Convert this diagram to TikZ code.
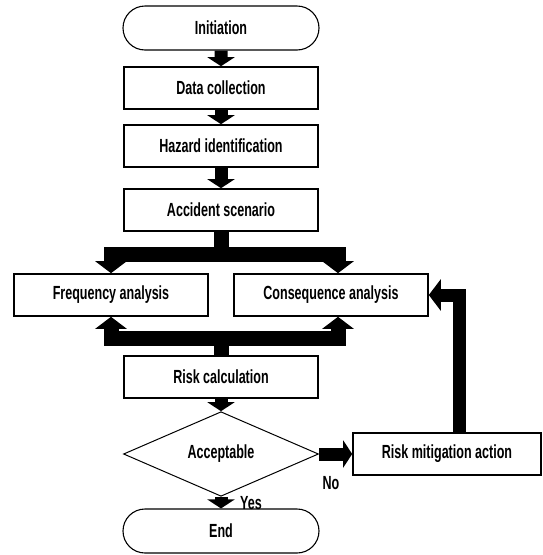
\documentclass[tikz,border=0pt]{standalone}
\usepackage{fontspec}
\setmainfont{Liberation Sans}[FakeStretch=0.66]
\usetikzlibrary{arrows.meta,shapes.geometric,shapes.misc}

\tikzset{
  box/.style={draw, line width=1.6pt, minimum width=194pt, minimum height=42pt, inner sep=0pt},
  terminal/.style={draw, rounded rectangle, line width=1.1pt, minimum width=196pt, minimum height=44pt, inner sep=0pt},
  decision/.style={draw, diamond, line width=1pt, minimum width=195pt, minimum height=78pt, inner sep=0pt},
  smalltip/.tip={Triangle[length=9pt,width=27pt]},
  bigtip/.tip={Triangle[length=12pt,width=31pt]},
  flow/.style={line width=13pt, -smalltip},
  bigline/.style={line width=15pt},
  bigflow/.style={line width=15pt, line join=miter, -bigtip}
}

\begin{document}
\begin{tikzpicture}[x=1pt,y=-1pt, every node/.style={font=\bfseries\fontsize{19}{21}\selectfont}]
\useasboundingbox (0,0) rectangle (542,555);

\node[terminal] (init) at (221,28) {Initiation};
\node[box] (data) at (221,88) {Data collection};
\node[box] (haz) at (221,146) {Hazard identification};
\node[box] (acc) at (221,210) {Accident scenario};
\node[box] (freq) at (111,295) {Frequency analysis};
\node[box] (cons) at (331,295) {Consequence analysis};
\node[box] (risk) at (221,377) {Risk calculation};
\node[decision] (ok) at (221,454) {Acceptable};
\node[box, minimum width=188pt] (mitig) at (447,454) {Risk mitigation action};
\node[terminal] (end) at (221,531) {End};

\coordinate (splitL) at (111,254);
\coordinate (splitR) at (338,254);
\coordinate (joinL) at (111,338);
\coordinate (joinR) at (338,338);
\coordinate (back) at (459,295);

\draw[flow] (init) -- (data);
\draw[flow] (data) -- (haz);
\draw[flow] (haz) -- (acc);

\draw[bigline] (acc.south) -- (acc.south |- splitL);
\draw[bigflow, bigtip-bigtip] (freq.north) -- (freq.north |- splitL) -- (splitR) -- (splitR |- cons.north);

\draw[bigflow, bigtip-bigtip] (freq.south) -- (freq.south |- joinL) -- (joinR) -- (joinR |- cons.south);
\draw[bigline] (risk.north) -- (risk.north |- joinL);

\draw[flow] (risk) -- (ok);
\draw[flow] (ok) -- (end);
\draw[flow] (ok) -- (mitig);
\draw[bigflow, line width=13pt] (mitig.north -| back) -- (back) -- (cons.east);

\node (no) at (331,483) {No};
\node (yes) at (251,503) {Yes};
\end{tikzpicture}
\end{document}
